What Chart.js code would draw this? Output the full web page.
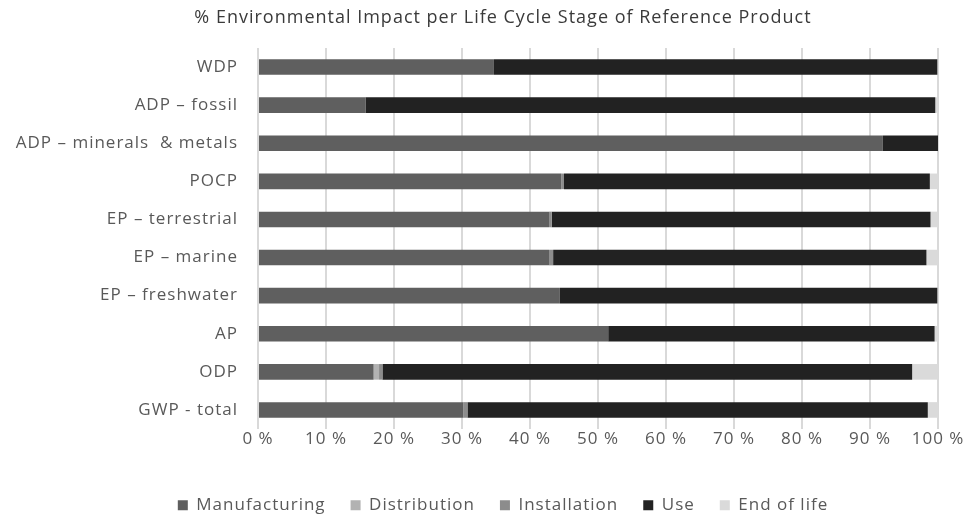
<!DOCTYPE html>
<html>
<head>
<meta charset="utf-8">
<script src="https://cdn.jsdelivr.net/npm/chart.js@4"></script>
<style>
  html, body { margin: 0; padding: 0; background: #fff; }
  #wrap { width: 968px; height: 516px; }
</style>
</head>
<body>
<div id="wrap"><canvas id="myChart" width="968" height="516"></canvas></div>
<script>
const categories = ['WDP', 'ADP – fossil', 'ADP – minerals  & metals', 'POCP', 'EP – terrestrial',
    'EP – marine', 'EP – freshwater', 'AP', 'ODP', 'GWP - total'];
const manufacturing = [34.7, 15.8, 91.9, 44.6, 42.8, 42.8, 44.4, 51.5, 17.0, 30.2];
const distribution  = [0, 0, 0, 0, 0, 0, 0, 0, 0.8, 0];
const installation  = [0, 0, 0, 0.4, 0.4, 0.6, 0, 0, 0.5, 0.6];
const use           = [65.2, 83.8, 8.1, 53.8, 55.7, 54.9, 55.5, 48.0, 77.9, 67.7];
const endOfLife     = [0.1, 0.4, 0, 1.2, 1.1, 1.7, 0.1, 0.5, 3.8, 1.5];
const xTicks = [0, 10, 20, 30, 40, 50, 60, 70, 80, 90, 100];

const font = "'Open Sans', sans-serif";
const textColor = '#595959';

function series(label, data, color) {
    return {
        label: label,
        data: data,
        backgroundColor: color,
        borderWidth: 0,
        barPercentage: 0.41,
        categoryPercentage: 1
    };
}

// wide letter spacing like the reference, a shorter legend box,
// and title + legend nudged right (they are centred a bit off the canvas middle)
const tweaks = {
    id: 'tweaks',
    beforeUpdate: (chart) => { chart.ctx.letterSpacing = '1px'; },
    beforeDraw: (chart) => { chart.ctx.letterSpacing = '1px'; },
    beforeLayout: (chart) => {
        const lg = chart.legend;
        if (lg && !lg._patched) {
            const fit = lg.fit;
            lg.fit = function () { fit.call(this); this.height = 44.2; };
            lg._patched = true;
        }
    },
    afterLayout: (chart) => {
        chart.titleBlock.left += 38;
        chart.legend.left += 38;
    }
};

const ctx = document.getElementById('myChart');
new Chart(ctx, {
    type: 'bar',
    plugins: [tweaks],
    data: {
        labels: categories,
        datasets: [
            series('Manufacturing', manufacturing, '#5f5f5f'),
            series('Distribution', distribution, '#b2b2b2'),
            series('Installation', installation, '#8c8c8c'),
            series('Use', use, '#222222'),
            series('End of life', endOfLife, '#dadada')
        ]
    },
    options: {
        indexAxis: 'y',
        responsive: false,
        animation: false,
        layout: { padding: 0 },
        scales: {
            x: {
                stacked: true,
                min: 0,
                max: 100,
                afterBuildTicks: (axis) => { axis.ticks = xTicks.map(v => ({ value: v })); },
                ticks: {
                    callback: (v) => v + ' %',
                    color: textColor,
                    font: { family: font, size: 17 },
                    padding: 0,
                    maxRotation: 0
                },
                grid: { color: '#d9d9d9', lineWidth: 2, drawTicks: true, tickLength: 0 },
                border: { display: false },
                afterFit: (axis) => { axis.height = 42.8; axis.paddingRight = 30; }
            },
            y: {
                stacked: true,
                ticks: {
                    color: textColor,
                    font: { family: font, size: 17 },
                    padding: 20
                },
                grid: { display: false, drawTicks: false },
                border: { display: false },
                afterFit: (axis) => { axis.width = 258; }
            }
        },
        plugins: {
            title: {
                display: true,
                text: '% Environmental Impact per Life Cycle Stage of Reference Product',
                color: '#3a3a3a',
                font: { family: font, size: 18, weight: 'normal' },
                padding: { top: 7.2, bottom: 19.2 }
            },
            legend: {
                position: 'bottom',
                labels: {
                    color: textColor,
                    font: { family: font, size: 17 },
                    boxWidth: 10,
                    boxHeight: 10,
                    padding: 25
                }
            },
            tooltip: { enabled: false }
        }
    }
});
</script>
</body>
</html>
